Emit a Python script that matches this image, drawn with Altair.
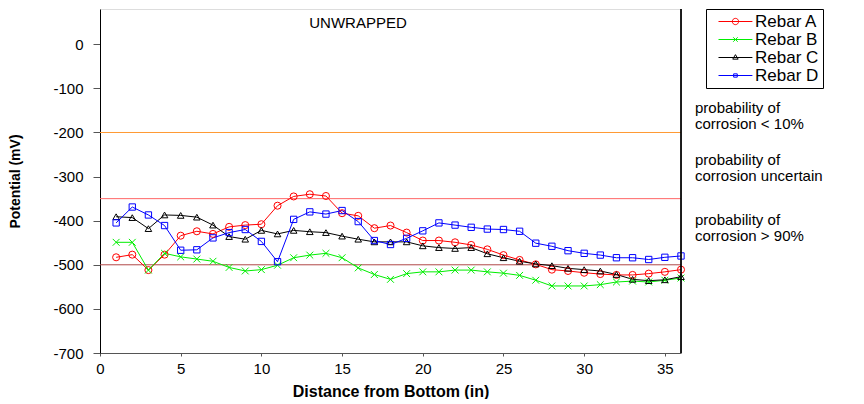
import altair as alt
import pandas as pd

# ---------------- data ----------------
distance = [1, 2, 3, 4, 5, 6, 7, 8, 9, 10, 11, 12, 13, 14, 15, 16, 17, 18,
            19, 20, 21, 22, 23, 24, 25, 26, 27, 28, 29, 30, 31, 32, 33, 34, 35, 36]

rebar_a = [-483, -477, -512, -477, -434, -424, -430, -414, -410, -408, -366, -345,
           -340, -344, -383, -389, -417, -411, -427, -445, -445, -449, -455, -465,
           -478, -489, -499, -511, -514, -518, -521, -523, -523, -520, -516, -511]
rebar_b = [-449, -449, -512, -474, -482, -487, -492, -506, -514, -511, -501, -484,
           -478, -474, -484, -507, -522, -533, -520, -516, -516, -512, -512, -516,
           -519, -524, -535, -548, -548, -548, -545, -539, -537, -539, -535, -530]
rebar_c = [-391, -393, -418, -387, -388, -392, -410, -436, -442, -422, -430, -422,
           -425, -427, -435, -442, -448, -448, -448, -457, -461, -463, -461, -475,
           -484, -492, -498, -502, -508, -511, -514, -522, -533, -536, -534, -527]
rebar_d = [-405, -369, -387, -411, -467, -466, -439, -427, -420, -447, -493, -397,
           -380, -385, -377, -402, -445, -454, -440, -423, -405, -410, -415, -419,
           -420, -424, -451, -458, -468, -474, -478, -484, -484, -488, -483, -480]

series_names = ["Rebar A", "Rebar B", "Rebar C", "Rebar D"]
series_colors = ["#ff0000", "#00ee00", "#000000", "#0000ff"]

threshold_values = [-200, -350, -500]
threshold_colors = ["#ff9933", "#ff6666", "#b04848"]

annot_texts = ["probability of\ncorrosion < 10%",
               "probability of\ncorrosion uncertain",
               "probability of\ncorrosion > 90%"]
annot_y = [-145, -263, -399]

x_ticks = [0, 5, 10, 15, 20, 25, 30, 35]
y_ticks = [0, -100, -200, -300, -400, -500, -600, -700]

# ---------------- tables ----------------
rows = []
for name, vals in zip(series_names, [rebar_a, rebar_b, rebar_c, rebar_d]):
    for d, v in zip(distance, vals):
        rows.append({"distance": d, "potential": v, "series": name})
df = pd.DataFrame(rows)

thr_df = pd.DataFrame({"value": threshold_values, "color": threshold_colors})
ann_df = pd.DataFrame({"text": annot_texts, "y": annot_y})

W, H = 581, 344
FONT = "Liberation Sans"

xscale = alt.Scale(domain=[0, 36], nice=False, zero=False)
yscale = alt.Scale(domain=[-700, 80], nice=False, zero=False)
cscale = alt.Scale(domain=series_names, range=series_colors)

x_enc = alt.X("distance:Q", scale=xscale,
              axis=alt.Axis(values=x_ticks, title="Distance from Bottom (in)",
                            grid=False, tickSize=3, labelPadding=5,
                            domainColor="#555555", tickColor="#555555",
                            labelFontSize=15, titleFontSize=16, titleFontWeight="bold",
                            titlePadding=7, labelFlush=False))
y_enc = alt.Y("potential:Q", scale=yscale,
              axis=alt.Axis(values=y_ticks, title="Potential  (mV)", grid=False,
                            tickSize=7, labelPadding=10, domainColor="#000000",
                            tickColor="#555555", labelFontSize=15,
                            labelExpr="'' + datum.value",
                            titleFontSize=14, titleFontWeight="bold",
                            titlePadding=30, minExtent=48, maxExtent=48))

base = alt.Chart(df)

lines = base.mark_line(strokeWidth=1).encode(
    x=x_enc, y=y_enc,
    color=alt.Color("series:N", scale=cscale, legend=None),
    detail="series:N",
)

points = base.mark_point(filled=False, strokeWidth=1, opacity=1).encode(
    x="distance:Q", y="potential:Q",
    color=alt.Color("series:N", scale=cscale, legend=None),
    shape=alt.Shape("series:N", legend=None,
                    scale=alt.Scale(domain=series_names,
                                    range=["circle", "M-1,-1L1,1M-1,1L1,-1",
                                           "triangle-up", "square"])),
    size=alt.Size("series:N", legend=None,
                  scale=alt.Scale(domain=series_names, range=[50, 40, 60, 22])),
)

legend_paths = [
    "M0,0H11.3M4.6,0A1.05,1.05 0 1,1 6.7,0A1.05,1.05 0 1,1 4.6,0",
    "M0,0H11.3M4.9,-0.75L6.4,0.75M4.9,0.75L6.4,-0.75",
    "M0,0H11.3M5.65,-0.95L6.55,0.55L4.75,0.55Z",
    "M0,0H11.3M5.05,-0.55H6.25V0.55H5.05Z",
]


def make_legend():
    return alt.Legend(title=None, orient="none", legendX=606, legendY=0,
                      symbolSize=36, symbolOpacity=1,
                      symbolStrokeWidth=1, symbolFillColor="transparent",
                      labelFontSize=17, labelOffset=28,
                      padding=4, rowPadding=0,
                      strokeColor="#000000", fillColor="#ffffff",
                      labelFont=FONT, labelColor="#000000")


legend_layer = base.transform_calculate(lseries="datum.series").mark_point(
    filled=False, opacity=0, strokeWidth=1
).encode(
    x="distance:Q", y="potential:Q",
    color=alt.Color("lseries:N",
                    scale=alt.Scale(domain=series_names, range=series_colors),
                    legend=make_legend()),
    shape=alt.Shape("lseries:N",
                    scale=alt.Scale(domain=series_names, range=legend_paths),
                    legend=make_legend()),
)

rules = alt.Chart(thr_df).mark_rule(strokeWidth=1).encode(
    y=alt.Y("value:Q", scale=yscale),
    color=alt.Color("color:N", scale=None),
)

right_edge = alt.Chart(thr_df).mark_rule(color="#000000", strokeWidth=1).encode(
    x=alt.datum(36, scale=xscale), y=alt.value(0), y2=alt.value(H),
)

annots = alt.Chart(ann_df).mark_text(
    align="left", baseline="middle", fontSize=15, lineBreak="\n",
    lineHeight=16, font=FONT, color="#000000"
).encode(
    x=alt.value(W + 14),
    y=alt.Y("y:Q", scale=yscale),
    text="text:N",
)

title_text = alt.Chart(pd.DataFrame({"t": ["UNWRAPPED"]})).mark_text(
    fontSize=15, font=FONT, color="#000000", baseline="middle", align="center"
).encode(x=alt.value(258), y=alt.value(14), text="t:N")

chart = alt.layer(
    rules, lines, points, legend_layer, right_edge, annots, title_text
).resolve_scale(
    shape="independent", color="independent"
).properties(
    width=W, height=H,
    padding={"left": 0, "top": 0, "right": 0, "bottom": 0},
).configure_view(
    stroke="#bbbbbb", strokeWidth=1
).configure(
    font=FONT
).configure_axis(
    labelFont=FONT, titleFont=FONT, labelColor="#000000", titleColor="#000000"
)

chart.save("out.html", embed_options={"renderer": "svg", "actions": False})
